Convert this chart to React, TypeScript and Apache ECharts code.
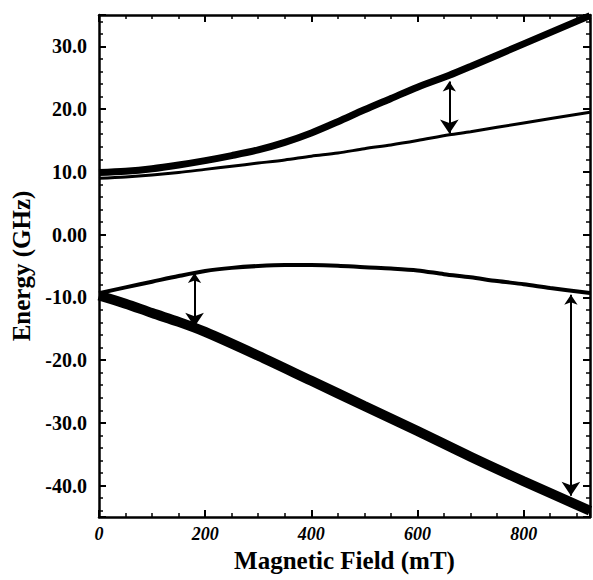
import React, { useEffect, useRef } from 'react';
import * as echarts from 'echarts';

// Magnetic field (mT) sample positions and energy levels (GHz)
const fieldUpper = [0, 50, 100, 150, 200, 250, 300, 350, 400, 450, 500, 550, 600, 660, 700, 800, 925];
const upperThick = [9.9, 10.1, 10.5, 11.1, 11.8, 12.6, 13.5, 14.7, 16.2, 18.0, 19.9, 21.7, 23.5, 25.4, 26.8, 30.4, 34.9];
const upperThin = [9.0, 9.2, 9.5, 9.9, 10.4, 10.9, 11.4, 11.9, 12.5, 13.0, 13.7, 14.3, 15.0, 15.9, 16.4, 17.8, 19.5];

const fieldMiddle = [0, 50, 100, 150, 200, 250, 300, 350, 400, 450, 500, 550, 600, 650, 700, 750, 800, 850, 925];
const middleLevel = [-9.35, -8.4, -7.5, -6.6, -5.8, -5.3, -5.0, -4.85, -4.85, -4.95, -5.2, -5.4, -5.7, -6.3, -6.8, -7.4, -7.9, -8.5, -9.3];

const fieldLower = [0, 50, 100, 150, 200, 300, 400, 500, 600, 700, 800, 925];
const lowerThick = [-9.7, -11.0, -12.5, -13.9, -15.5, -19.3, -23.3, -27.3, -31.3, -35.4, -39.3, -44.0];

// transition arrows
const arrowField = [660, 180, 889];
const arrowTop = [24.4, -6.1, -9.6];
const arrowBottom = [16.1, -14.7, -41.6];

const xTickLabels = [0, 200, 400, 600, 800];

const FONT = '"Liberation Serif", "Times New Roman", serif';

function pairs(xs: number[], ys: number[]) {
  return xs.map((x, i) => [x, ys[i]]);
}

export default function App() {
  const ref = useRef<HTMLDivElement>(null);
  useEffect(() => {
    const chart = echarts.init(ref.current!, null, { renderer: 'svg' });
    const axisLine = { show: true, onZero: false, lineStyle: { color: '#000', width: 2.5 } };
    const noLine = { show: false, onZero: false };
    const majorTick = { show: true, inside: true, length: 7, lineStyle: { color: '#000', width: 2 } };
    const minorTick = { show: true, inside: true, length: 4, lineStyle: { color: '#000', width: 1.5 } };
    const xBase = { type: 'value', min: 0, max: 925, splitLine: { show: false } };
    const yBase = { type: 'value', min: -45, max: 35, splitLine: { show: false } };
    const lineSeries = (xs: number[], ys: number[], width: number) => ({
      type: 'line',
      data: pairs(xs, ys),
      smooth: 0.3,
      showSymbol: false,
      lineStyle: { color: '#000', width },
      silent: true,
    });
    const option: any = {
      animation: false,
      backgroundColor: '#fff',
      grid: { left: 99, right: 1, top: 15, bottom: 63, containLabel: false },
      xAxis: [
        {
          ...xBase,
          position: 'bottom',
          interval: 200,
          axisLine,
          axisTick: majorTick,
          axisLabel: {
            color: '#000',
            fontFamily: FONT,
            fontSize: 18,
            fontWeight: 'bold',
            fontStyle: 'italic',
            margin: 8,
            formatter: (v: number) => (xTickLabels.indexOf(v) >= 0 ? String(v) : ''),
          },
          name: 'Magnetic Field (mT)',
          nameLocation: 'middle',
          nameGap: 30,
          nameTextStyle: { color: '#000', fontFamily: FONT, fontSize: 25, fontWeight: 'bold' },
        },
        { ...xBase, position: 'top', interval: 200, axisLine, axisTick: majorTick, axisLabel: { show: false } },
        { ...xBase, position: 'bottom', interval: 50, axisLine: noLine, axisTick: minorTick, axisLabel: { show: false } },
        { ...xBase, position: 'top', interval: 50, axisLine: noLine, axisTick: minorTick, axisLabel: { show: false } },
      ],
      yAxis: [
        {
          ...yBase,
          position: 'left',
          minInterval: 10,
          maxInterval: 10,
          axisLine,
          axisTick: majorTick,
          axisLabel: {
            color: '#000',
            fontFamily: FONT,
            fontSize: 20,
            fontWeight: 'bold',
            margin: 12,
            formatter: (v: number) => (Math.abs(v % 10) < 1e-9 ? (v === 0 ? '0.00' : v.toFixed(1)) : ''),
          },
          name: 'Energy (GHz)',
          nameLocation: 'middle',
          nameGap: 64,
          nameTextStyle: { color: '#000', fontFamily: FONT, fontSize: 25, fontWeight: 'bold' },
        },
        { ...yBase, position: 'right', minInterval: 10, maxInterval: 10, axisLine, axisTick: majorTick, axisLabel: { show: false } },
        { ...yBase, position: 'left', minInterval: 2, maxInterval: 2, axisLine: noLine, axisTick: minorTick, axisLabel: { show: false } },
        { ...yBase, position: 'right', minInterval: 2, maxInterval: 2, axisLine: noLine, axisTick: minorTick, axisLabel: { show: false } },
      ],
      series: [
        lineSeries(fieldUpper, upperThin, 3),
        lineSeries(fieldUpper, upperThick, 7),
        lineSeries(fieldMiddle, middleLevel, 4),
        lineSeries(fieldLower, lowerThick, 10),
        {
          type: 'lines',
          coordinateSystem: 'cartesian2d',
          symbol: ['arrow', 'arrow'],
          symbolSize: [10, 14],
          lineStyle: { color: '#000', width: 2, opacity: 1 },
          silent: true,
          data: arrowField.map((x, i) => ({ coords: [[x, arrowTop[i]], [x, arrowBottom[i]]] })),
        },
      ],
    };
    chart.setOption(option);
    return () => chart.dispose();
  }, []);
  return (
    <div
      ref={ref}
      style={{ position: 'absolute', left: 0, top: 0, width: 593, height: 580, background: '#fff' }}
    />
  );
}
